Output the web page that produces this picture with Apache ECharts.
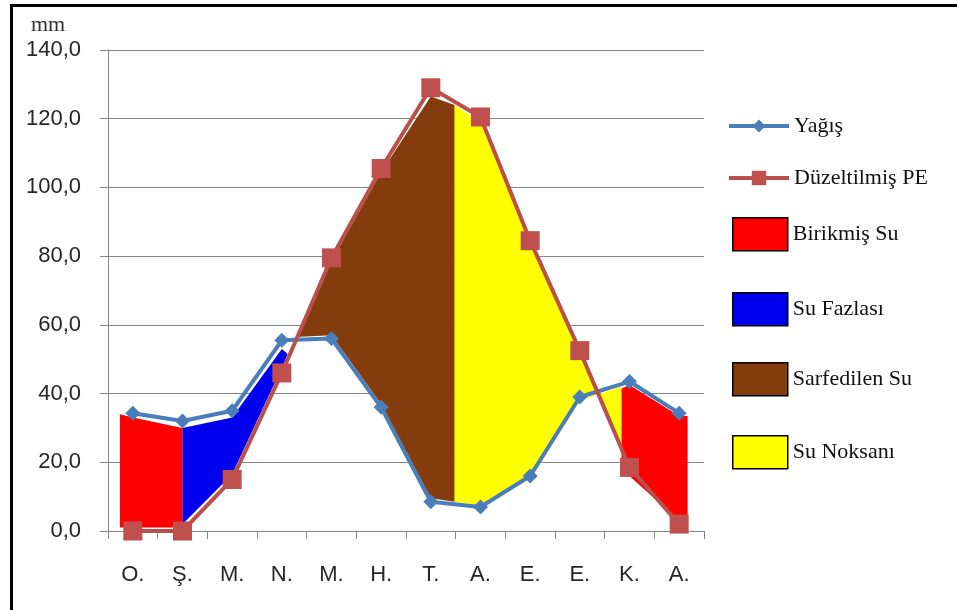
<!DOCTYPE html>
<html>
<head>
<meta charset="utf-8">
<script src="https://cdn.jsdelivr.net/npm/echarts@6/dist/echarts.min.js"></script>
<style>
  html, body { margin: 0; padding: 0; background: #fff; }
  #wrap { position: relative; width: 957px; height: 610px; }
  #chart { width: 957px; height: 610px; }
  #frame {
    position: absolute; top: 4px; left: 10px; right: 0; bottom: 0;
    border-top: 3px solid #000; border-left: 3px solid #000;
    pointer-events: none;
  }
</style>
</head>
<body>
<div id="wrap">
  <div id="chart"></div>
  <div id="frame"></div>
</div>
<script>
// months (category axis)
const months = ['O.', 'Ş.', 'M.', 'N.', 'M.', 'H.', 'T.', 'A.', 'E.', 'E.', 'K.', 'A.']
const yTicks = [0, 20, 40, 60, 80, 100, 120, 140]

// line series (mm)
const yagis = [34.3, 32, 35, 55.5, 56, 36, 8.5, 7, 16, 39, 43.5, 34.3]
const duzeltilmisPE = [0, 0, 15, 46, 79.5, 105.5, 129, 120.5, 84.5, 52.5, 18.5, 2]

// filled regions, vertices as [month index, mm]
const birikmisSu1 = [[-0.26, 34], [0, 33], [1, 30], [1, 1], [-0.26, 1]]
const suFazlasi = [[1, 30], [2, 33], [3, 53], [3.12, 51.5], [3, 47.5], [2, 16.5], [1, 2]]
const sarfedilenSu = [[3.28, 56.5], [4, 78.5], [5, 104.5], [6, 126.5], [6.48, 124], [6.48, 8.5], [6, 9.5], [5, 37], [4, 57]]
const suNoksani = [[6.48, 124], [7, 119], [8, 83.5], [9, 51.5], [9.84, 23], [9.84, 42], [9, 38], [8, 15], [7, 7.5], [6.48, 8.5]]
const birikmisSu2 = [[9.84, 41.5], [10, 42.5], [11, 33.5], [11.17, 33.5], [11.17, 3], [11, 3], [10, 16], [9.84, 16]]

const chart = echarts.init(document.getElementById('chart'))

function fillSeries(name, color, points) {
  return {
    name: name,
    type: 'custom',
    xAxisIndex: 1,
    yAxisIndex: 0,
    silent: true,
    z: 1,
    itemStyle: { color: color },
    encode: { x: 0, y: 1 },
    data: points,
    renderItem: (params, api) => {
      if (params.dataIndex !== 0) return null
      return {
        type: 'polygon',
        shape: { points: points.map(p => api.coord(p)) },
        style: { fill: color }
      }
    }
  }
}

const serif = '"Liberation Serif", "Times New Roman", serif'
const sans = '"Liberation Sans", Arial, sans-serif'

function lineLegend(name, top, h) {
  return {
    data: [name],
    left: 722,
    top: top,
    itemWidth: 60,
    itemHeight: h,
    selectedMode: false,
    lineStyle: { width: 4 },
    textStyle: { fontFamily: serif, fontSize: 22, color: '#111' }
  }
}

function boxLegend(name, top) {
  return {
    data: [{ name: name, icon: 'rect' }],
    left: 727,
    top: top,
    itemWidth: 55,
    itemHeight: 33,
    selectedMode: false,
    itemStyle: { borderColor: '#000', borderWidth: 1.5 },
    textStyle: { fontFamily: serif, fontSize: 22, color: '#111' }
  }
}

chart.setOption({
  animation: false,
  title: {
    text: 'mm',
    left: 26,
    top: 9,
    textStyle: { fontFamily: serif, fontSize: 22, fontWeight: 'normal', color: '#333' }
  },
  grid: { left: 108, right: 253, top: 50, bottom: 79 },
  legend: [
    lineLegend('Yağış', 110, 16),
    lineLegend('Düzeltilmiş PE', 162, 18),
    boxLegend('Birikmiş Su', 212),
    boxLegend('Su Fazlası', 287),
    boxLegend('Sarfedilen Su', 357),
    boxLegend('Su Noksanı', 430)
  ],
  xAxis: [
    {
      type: 'category',
      data: months,
      boundaryGap: true,
      axisLine: { lineStyle: { color: '#868686', width: 1 } },
      axisTick: { show: true, length: 8, lineStyle: { color: '#868686' } },
      axisLabel: { margin: 33, fontFamily: sans, fontSize: 22, color: '#262626' }
    },
    {
      type: 'value',
      min: -0.5,
      max: 11.5,
      show: false
    }
  ],
  yAxis: {
    type: 'value',
    min: yTicks[0],
    max: yTicks[yTicks.length - 1],
    interval: 20,
    axisLine: { show: true, onZero: false, lineStyle: { color: '#868686', width: 1 } },
    axisTick: { show: true, length: 8, lineStyle: { color: '#868686' } },
    axisLabel: {
      margin: 27,
      fontFamily: sans,
      fontSize: 22,
      color: '#262626',
      formatter: v => v.toFixed(1).replace('.', ',')
    },
    splitLine: { lineStyle: { color: '#868686', width: 1 } }
  },
  series: [
    fillSeries('Birikmiş Su', '#ff0000', birikmisSu1),
    fillSeries('Su Fazlası', '#0000f0', suFazlasi),
    fillSeries('Sarfedilen Su', '#843c0c', sarfedilenSu),
    fillSeries('Su Noksanı', '#ffff00', suNoksani),
    fillSeries('Birikmiş Su', '#ff0000', birikmisSu2),
    {
      name: 'Yağış',
      type: 'line',
      data: yagis,
      z: 3,
      symbol: 'diamond',
      symbolSize: 15,
      itemStyle: { color: '#4a7ebb' },
      lineStyle: { color: '#4a7ebb', width: 4 }
    },
    {
      name: 'Düzeltilmiş PE',
      type: 'line',
      data: duzeltilmisPE,
      z: 4,
      symbol: 'rect',
      symbolSize: 19,
      itemStyle: { color: '#c0504d' },
      lineStyle: { color: '#b9504c', width: 4 }
    }
  ]
})
</script>
</body>
</html>
